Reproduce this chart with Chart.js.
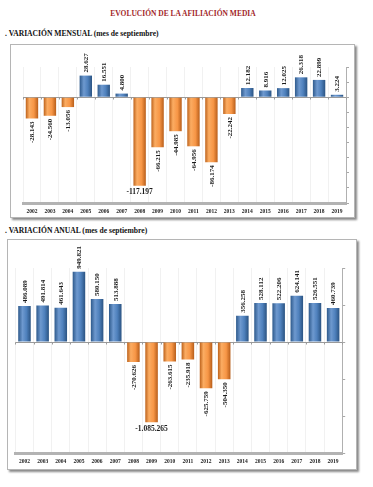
<!DOCTYPE html>
<html>
<head>
<meta charset="utf-8">
<script src="https://cdn.jsdelivr.net/npm/chart.js@4/dist/chart.umd.min.js"></script>
<style>
  body { margin: 0; background: #fff; width: 373px; height: 487px; position: relative; overflow: hidden; font-family: "Liberation Serif", serif; }
  .title { position: absolute; left: 0; width: 366px; top: 9px; text-align: center; color: #a2272a; font-weight: bold; font-size: 7.5px; }
  .sub { position: absolute; left: 5px; font-weight: bold; font-size: 7.6px; color: #111; }
  .box { position: absolute; border: 1px solid #b5b5b5; background: #fff; box-shadow: 2px 2px 2px #8a8a8a; box-sizing: border-box; }
  canvas { position: absolute; }
</style>
</head>
<body>
<div class="title">EVOLUCIÓN DE LA AFILIACIÓN MEDIA</div>
<div class="sub" style="top:29px">. VARIACIÓN MENSUAL (mes de septiembre)</div>
<div class="box" style="left:10px;top:44px;width:345px;height:174px"></div>
<canvas id="myChart1" width="345" height="174" style="left:10px;top:44px"></canvas>

<div class="sub" style="top:226px">. VARIACIÓN ANUAL (mes de septiembre)</div>
<div class="box" style="left:7px;top:239px;width:350px;height:231px"></div>
<canvas id="myChart2" width="350" height="231" style="left:7px;top:239px"></canvas>

<script>
var years = ['2002','2003','2004','2005','2006','2007','2008','2009','2010','2011','2012','2013','2014','2015','2016','2017','2018','2019'];

var mensual = [-28143, -24560, -13056, 28627, 16551, 4800, -117197, -66215, -44985, -64956, -86174, -22242, 12182, 8916, 12025, 26318, 22899, 3224];

var anual = [486089, 491814, 461643, 949821, 580150, 513888, -270626, -1085265, -263615, -235918, -625759, -504350, 356258, 528112, 522206, 624141, 526551, 460739];

function fmt(v) {
  var s = Math.abs(v).toString().replace(/\B(?=(\d{3})+(?!\d))/g, '.');
  return (v < 0 ? '-' : '') + s;
}

function barFill(c) {
  var chart = c.chart;
  var neg = c.raw < 0;
  if (!chart.chartArea) return neg ? '#f79646' : '#4f81bd';
  var x = chart.scales.x.getPixelForValue(c.dataIndex);
  var g = chart.ctx.createLinearGradient(x - 6.5, 0, x + 6.5, 0);
  if (neg) {
    g.addColorStop(0, '#b95d16');
    g.addColorStop(0.3, '#fbac62');
    g.addColorStop(0.65, '#f79646');
    g.addColorStop(1, '#b45a17');
  } else {
    g.addColorStop(0, '#2a5688');
    g.addColorStop(0.35, '#6e99cf');
    g.addColorStop(0.65, '#4f81bd');
    g.addColorStop(1, '#28507e');
  }
  return g;
}

// value labels, rotated like the excel ones; one of them lies flat under its bar
var labelPlugin = {
  id: 'vlabels',
  afterDatasetsDraw: function(chart, args, opts) {
    var ctx = chart.ctx;
    var meta = chart.getDatasetMeta(0);
    var vals = chart.data.datasets[0].data;
    ctx.save();
    ctx.fillStyle = '#1a1a1a';
    meta.data.forEach(function(bar, i) {
      var v = vals[i];
      var txt = fmt(v);
      if (i === opts.flat) {
        ctx.font = 'bold 7.5px "Liberation Serif"';
        ctx.textAlign = 'center';
        ctx.textBaseline = 'top';
        ctx.fillText(txt, bar.x, bar.y + 3);
        return;
      }
      ctx.font = 'bold 7px "Liberation Serif"';
      ctx.save();
      ctx.translate(bar.x + 0.5, v >= 0 ? bar.y - 3 : bar.y + 3);
      ctx.rotate(-Math.PI / 2);
      ctx.textAlign = v >= 0 ? 'left' : 'right';
      ctx.textBaseline = 'middle';
      ctx.fillText(txt, 0, 0);
      ctx.restore();
    });
    ctx.restore();
  }
};

// zero line with little tick marks between the categories
var zeroPlugin = {
  id: 'zeroline',
  beforeDatasetsDraw: function(chart) {
    var ctx = chart.ctx;
    var y = Math.round(chart.scales.y.getPixelForValue(0)) + 0.5;
    var area = chart.chartArea;
    var n = chart.data.labels.length;
    var step = (area.right - area.left) / n;
    ctx.save();
    ctx.strokeStyle = '#9a9a9a';
    ctx.lineWidth = 1;
    ctx.beginPath();
    ctx.moveTo(area.left, y);
    ctx.lineTo(area.right, y);
    for (var i = 0; i <= n; i++) {
      var x = Math.round(area.left + i * step) + 0.5;
      ctx.moveTo(x, y);
      ctx.lineTo(x, y + 2);
    }
    ctx.stroke();
    ctx.restore();
  }
};

function createGraph(graphID, values, yMin, yMax, step, flat, padding) {
  var ctx1 = document.getElementById(graphID).getContext('2d');
  return new Chart(ctx1, {
    type: 'bar',
    data: {
      labels: years,
      datasets: [{
        data: values,
        backgroundColor: barFill,
        borderWidth: 0,
        barPercentage: 0.69,
        categoryPercentage: 1
      }]
    },
    options: {
      responsive: false,
      animation: false,
      layout: { padding: padding },
      plugins: {
        legend: { display: false },
        tooltip: { enabled: false },
        vlabels: { flat: flat }
      },
      scales: {
        x: {
          grid: { display: true, drawTicks: false, color: '#f1f1f1' },
          border: { display: true, color: '#b3b3b3', width: 3 },
          ticks: {
            color: '#222',
            padding: 5,
            maxRotation: 0,
            autoSkip: false,
            font: { family: 'Liberation Serif', weight: 'bold', size: 5.5 }
          },
          afterFit: function(s) { s.height = 15; }
        },
        y: {
          position: 'right',
          min: yMin,
          max: yMax,
          grid: { drawOnChartArea: false, drawTicks: true, tickLength: 3, tickColor: '#a8a8a8' },
          border: { display: true, color: '#b0b0b0', width: 1 },
          ticks: { display: false, stepSize: step },
          afterFit: function(s) { s.width = 4; }
        }
      }
    },
    plugins: [zeroPlugin, labelPlugin]
  });
}

createGraph('myChart1', mensual, -140000, 40000, 20000, 6, { left: 13, top: 23, right: 5, bottom: 0 });
createGraph('myChart2', anual, -1500000, 1000000, 500000, 7, { left: 8.4, top: 29, right: 10.8, bottom: 2 });
</script>
</body>
</html>
